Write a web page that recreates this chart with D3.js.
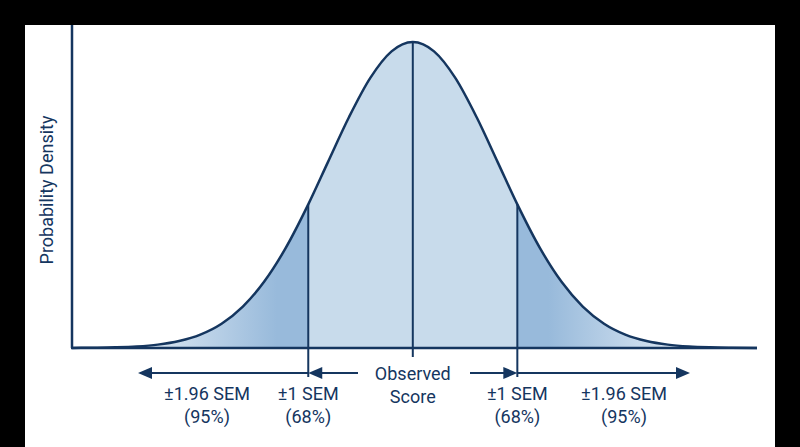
<!DOCTYPE html>
<html><head><meta charset="utf-8">
<script src="https://cdn.jsdelivr.net/npm/d3@7"></script>
<style>body{margin:0;background:#000}svg{display:block}</style></head>
<body><svg id="c" width="800" height="447"></svg>
<script>
const zVals = [-4.01,-3.75,-3.5,-3.25,-3,-2.75,-2.5,-2.25,-2,-1.75,-1.5,-1.23,-1,-0.75,-0.5,-0.25,0,0.25,0.5,0.75,1,1.23,1.5,1.75,2,2.25,2.5,2.75,3,3.25,3.5,3.75,4.05];
const density = [0.0001,0.0004,0.0009,0.0020,0.0044,0.0091,0.0175,0.0317,0.0540,0.0863,0.1295,0.1872,0.2420,0.3011,0.3521,0.3867,0.3989,0.3867,0.3521,0.3011,0.2420,0.1872,0.1295,0.0863,0.0540,0.0317,0.0175,0.0091,0.0044,0.0020,0.0009,0.0004,0.0001];
const semMarks = [-1.23, 1.23];
const bottomLabels = [
  {pos:"farL", l1:"±1.96 SEM", l2:"(95%)"},
  {pos:"L", l1:"±1 SEM", l2:"(68%)"},
  {pos:"C", l1:"Observed", l2:"Score"},
  {pos:"R", l1:"±1 SEM", l2:"(68%)"},
  {pos:"farR", l1:"±1.96 SEM", l2:"(95%)"}
];
const yLabel = "Probability Density";

const svg = d3.select("#c");
const ink = "#15365f";
const font = "Roboto, sans-serif";
svg.append("rect").attr("x",25).attr("y",25).attr("width",750).attr("height",422).attr("fill","#fff");
const x = d3.scaleLinear().domain([-4.01,4.05]).range([72,757]);
const y = d3.scaleLinear().domain([0,0.3989]).range([348,42]);
const pts = zVals.map((z,i)=>({z,d:density[i]}));
const area = d3.area().x(p=>x(p.z)).y0(y(0)).y1(p=>y(p.d)).curve(d3.curveMonotoneX);
const line = d3.line().x(p=>x(p.z)).y(p=>y(p.d)).curve(d3.curveMonotoneX);
const defs = svg.append("defs");
function grad(id, x1, x2){
  const g = defs.append("linearGradient").attr("id",id).attr("gradientUnits","userSpaceOnUse")
    .attr("x1",x1).attr("x2",x2).attr("y1",0).attr("y2",0);
  g.append("stop").attr("offset",0).attr("stop-color","#98badb").attr("stop-opacity",0.4);
  g.append("stop").attr("offset",1).attr("stop-color","#98badb").attr("stop-opacity",1);
}
grad("gl", x(-3), x(-1.6));
grad("gr", x(3), x(1.6));
svg.append("path").datum(pts.filter(p=>p.z<=-1.23)).attr("d",area).attr("fill","url(#gl)");
svg.append("path").datum(pts.filter(p=>p.z>=1.23)).attr("d",area).attr("fill","url(#gr)");
svg.append("path").datum(pts.filter(p=>p.z>=-1.23&&p.z<=1.23)).attr("d",area).attr("fill","#c8dbeb");
svg.append("path").datum(pts).attr("d",line).attr("fill","none").attr("stroke",ink).attr("stroke-width",2.5);
svg.append("line").attr("x1",72).attr("x2",72).attr("y1",25).attr("y2",348).attr("stroke",ink).attr("stroke-width",2.5);
svg.append("line").attr("x1",71).attr("x2",757).attr("y1",348).attr("y2",348).attr("stroke",ink).attr("stroke-width",2.5);
svg.append("text").attr("transform","translate(53,190) rotate(-90)").attr("text-anchor","middle")
  .attr("font-family",font).attr("font-size",18).attr("fill",ink).text(yLabel);
svg.append("line").attr("x1",x(0)).attr("x2",x(0)).attr("y1",y(0.3989)).attr("y2",357).attr("stroke",ink).attr("stroke-width",2);
semMarks.forEach(z=>{
  const d = density[zVals.indexOf(z)];
  svg.append("line").attr("x1",x(z)).attr("x2",x(z)).attr("y1",y(d)).attr("y2",377).attr("stroke",ink).attr("stroke-width",2);
});
const ay = 373;
function arrow(x1,x2){
  svg.append("line").attr("x1",x1).attr("x2",x2 + (x2>x1?-8:8)).attr("y1",ay).attr("y2",ay).attr("stroke",ink).attr("stroke-width",2);
  const s = x2>x1?-1:1;
  svg.append("path").attr("d",`M${x2},${ay} L${x2+s*14},${ay-6} L${x2+s*14},${ay+6} Z`).attr("fill",ink);
}
arrow(x(-1.23), 138);
arrow(x(1.23), 690);
arrow(358, x(-1.23));
arrow(470, x(1.23));
const posX = {farL:207, L:x(-1.23), C:x(0), R:x(1.23), farR:624};
bottomLabels.forEach(b=>{
  const cx = posX[b.pos];
  const t = svg.append("text").attr("text-anchor","middle").attr("font-family",font)
    .attr("font-size",18).attr("fill",ink);
  const y1 = b.pos==="C" ? 380 : 400;
  t.append("tspan").attr("x",cx).attr("y",y1).text(b.l1);
  t.append("tspan").attr("x",cx).attr("y",y1+23).text(b.l2);
});
</script></body></html>
